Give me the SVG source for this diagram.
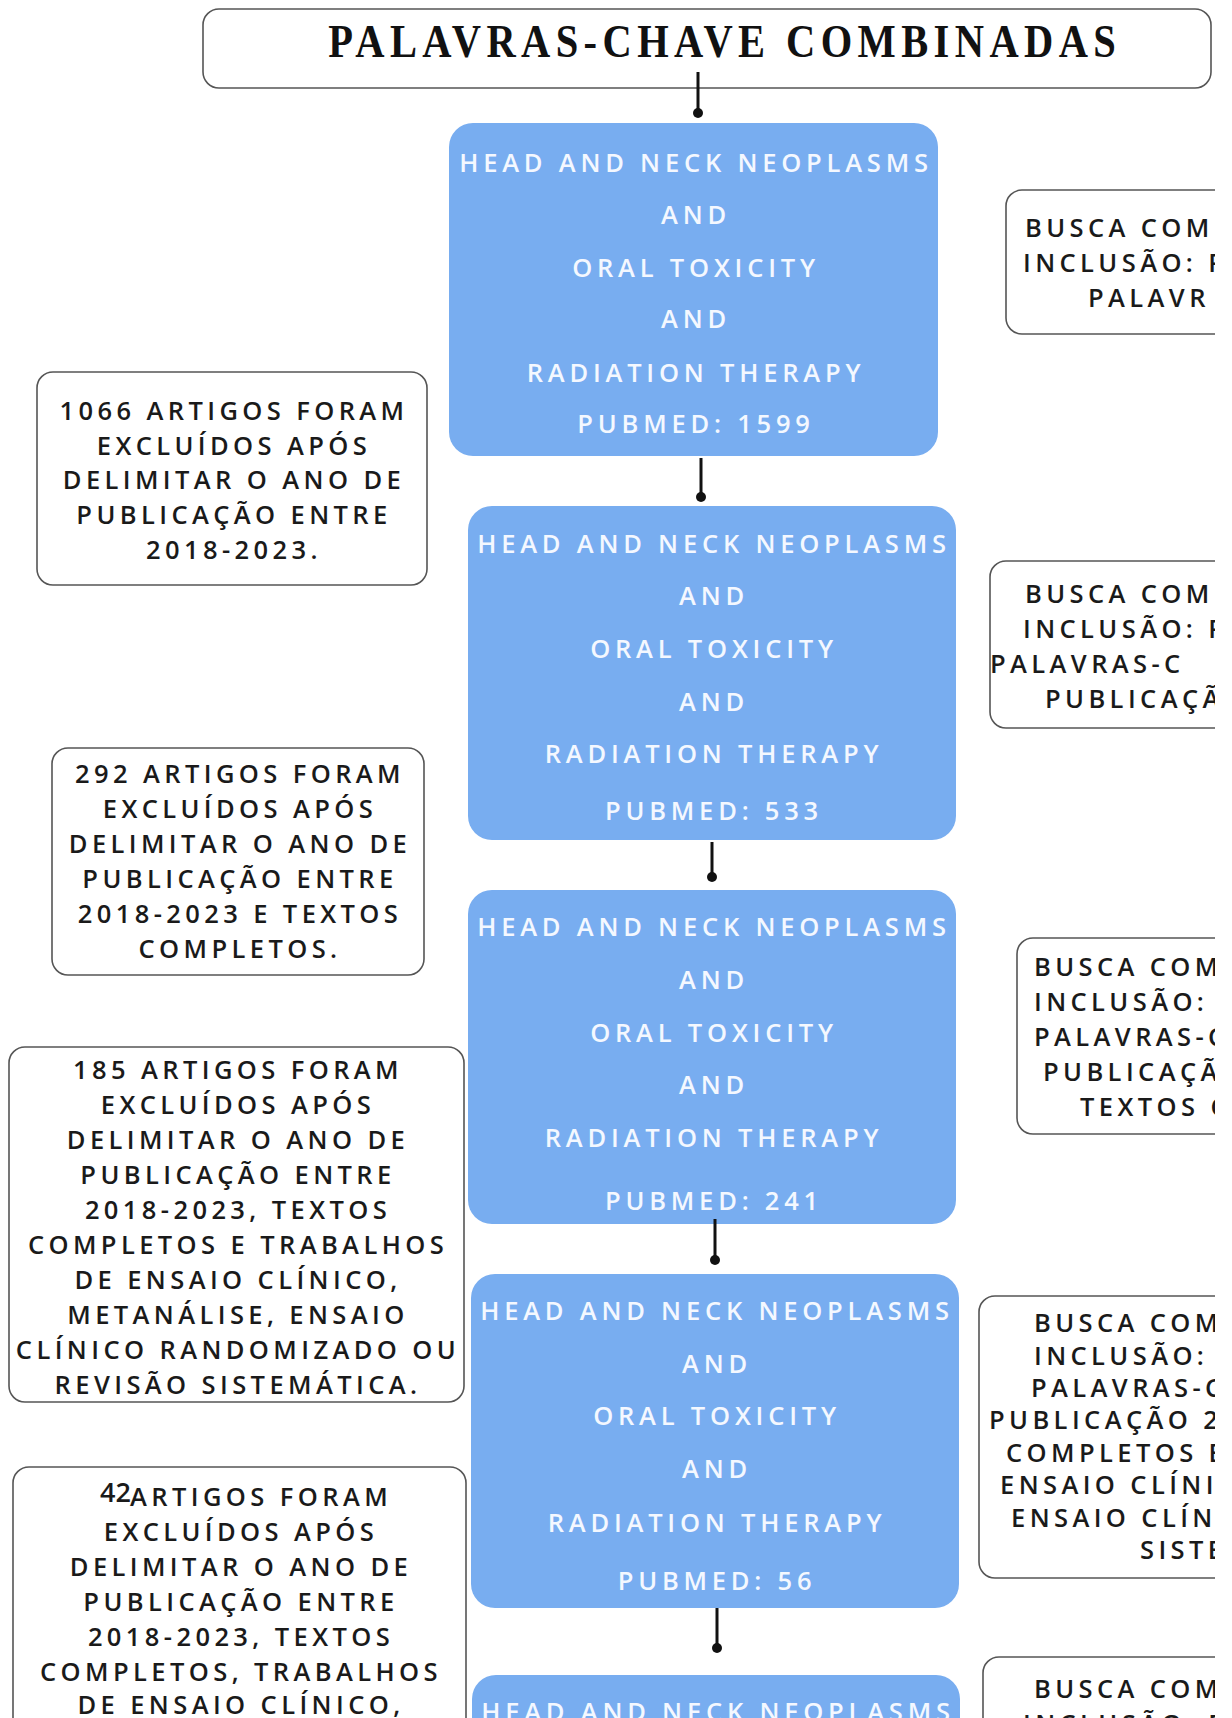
<svg xmlns="http://www.w3.org/2000/svg" width="1232" height="1718" viewBox="0 0 1232 1718">
<style>
.title{font-family:"Liberation Serif","Times New Roman",serif;font-weight:bold;font-size:45px;letter-spacing:6px;fill:#111;text-anchor:middle}
.frame{fill:#fff;stroke:#555;stroke-width:1.6}
.blue{fill:#78adf0}
.bt{font-family:"Open Sans","Liberation Sans",sans-serif;font-weight:600;font-size:25.5px;letter-spacing:4.8px;fill:#f4f8ff;text-anchor:middle}
.lt{font-family:"Open Sans","Liberation Sans",sans-serif;font-weight:600;font-size:25.5px;letter-spacing:4.4px;fill:#1a1a1a;text-anchor:middle}
.rt{font-family:"Open Sans","Liberation Sans",sans-serif;font-weight:600;font-size:25.5px;letter-spacing:4.4px;fill:#1a1a1a}
.ln{stroke:#111;stroke-width:3;fill:none}
.dot{fill:#111}
</style>
<defs>
<clipPath id="cut"><rect x="0" y="0" width="1215" height="1718"/></clipPath>
</defs>
<rect width="1232" height="1718" fill="#fff"/>

<g id="title">
<rect class="frame" x="203" y="9" width="1008" height="79" rx="16"/>
<text class="title" transform="translate(722 57) scale(0.9 1.05)" x="3" y="0">PALAVRAS-CHAVE COMBINADAS</text>
</g>

<g id="search1">
<rect class="blue" x="449" y="123" width="489" height="333" rx="24"/>
<text class="bt" x="696" y="172">HEAD AND NECK NEOPLASMS</text>
<text class="bt" x="696" y="224">AND</text>
<text class="bt" x="696" y="277">ORAL TOXICITY</text>
<text class="bt" x="696" y="328">AND</text>
<text class="bt" x="696" y="382">RADIATION THERAPY</text>
<text class="bt" x="696" y="433">PUBMED: 1599</text>
</g>

<g id="search2">
<rect class="blue" x="468" y="506" width="488" height="334" rx="24"/>
<text class="bt" x="714" y="553">HEAD AND NECK NEOPLASMS</text>
<text class="bt" x="714" y="605">AND</text>
<text class="bt" x="714" y="658">ORAL TOXICITY</text>
<text class="bt" x="714" y="711">AND</text>
<text class="bt" x="714" y="763">RADIATION THERAPY</text>
<text class="bt" x="714" y="820">PUBMED: 533</text>
</g>

<g id="search3">
<rect class="blue" x="468" y="890" width="488" height="334" rx="24"/>
<text class="bt" x="714" y="936">HEAD AND NECK NEOPLASMS</text>
<text class="bt" x="714" y="989">AND</text>
<text class="bt" x="714" y="1042">ORAL TOXICITY</text>
<text class="bt" x="714" y="1094">AND</text>
<text class="bt" x="714" y="1147">RADIATION THERAPY</text>
<text class="bt" x="714" y="1210">PUBMED: 241</text>
</g>

<g id="search4">
<rect class="blue" x="471" y="1274" width="488" height="334" rx="24"/>
<text class="bt" x="717" y="1320">HEAD AND NECK NEOPLASMS</text>
<text class="bt" x="717" y="1373">AND</text>
<text class="bt" x="717" y="1425">ORAL TOXICITY</text>
<text class="bt" x="717" y="1478">AND</text>
<text class="bt" x="717" y="1532">RADIATION THERAPY</text>
<text class="bt" x="717" y="1590">PUBMED: 56</text>
</g>

<g id="search5">
<rect class="blue" x="472" y="1675" width="488" height="120" rx="24"/>
<text class="bt" x="718" y="1721">HEAD AND NECK NEOPLASMS</text>
</g>

<g id="excl1">
<rect class="frame" x="37" y="372" width="390" height="213" rx="16"/>
<text class="lt" x="234" y="420">1066 ARTIGOS FORAM</text>
<text class="lt" x="234" y="455">EXCLUÍDOS APÓS</text>
<text class="lt" x="234" y="489">DELIMITAR O ANO DE</text>
<text class="lt" x="234" y="524">PUBLICAÇÃO ENTRE</text>
<text class="lt" x="234" y="559">2018-2023.</text>
</g>

<g id="excl2">
<rect class="frame" x="52" y="748" width="372" height="227" rx="16"/>
<text class="lt" x="240" y="783">292 ARTIGOS FORAM</text>
<text class="lt" x="240" y="818">EXCLUÍDOS APÓS</text>
<text class="lt" x="240" y="853">DELIMITAR O ANO DE</text>
<text class="lt" x="240" y="888">PUBLICAÇÃO ENTRE</text>
<text class="lt" x="240" y="923">2018-2023 E TEXTOS</text>
<text class="lt" x="240" y="958">COMPLETOS.</text>
</g>

<g id="excl3">
<rect class="frame" x="9" y="1047" width="455" height="355" rx="16"/>
<text class="lt" x="238" y="1079">185 ARTIGOS FORAM</text>
<text class="lt" x="238" y="1114">EXCLUÍDOS APÓS</text>
<text class="lt" x="238" y="1149">DELIMITAR O ANO DE</text>
<text class="lt" x="238" y="1184">PUBLICAÇÃO ENTRE</text>
<text class="lt" x="238" y="1219">2018-2023, TEXTOS</text>
<text class="lt" x="238" y="1254">COMPLETOS E TRABALHOS</text>
<text class="lt" x="238" y="1289">DE ENSAIO CLÍNICO,</text>
<text class="lt" x="238" y="1324">METANÁLISE, ENSAIO</text>
<text class="lt" x="238" y="1359">CLÍNICO RANDOMIZADO OU</text>
<text class="lt" x="238" y="1394">REVISÃO SISTEMÁTICA.</text>
</g>

<g id="excl4">
<rect class="frame" x="13" y="1467" width="453" height="320" rx="16"/>
<text class="rt" x="100" y="1502" style="font-size:27px;letter-spacing:0">42</text>
<text class="rt" x="130" y="1506">ARTIGOS FORAM</text>
<text class="lt" x="241" y="1541">EXCLUÍDOS APÓS</text>
<text class="lt" x="241" y="1576">DELIMITAR O ANO DE</text>
<text class="lt" x="241" y="1611">PUBLICAÇÃO ENTRE</text>
<text class="lt" x="241" y="1646">2018-2023, TEXTOS</text>
<text class="lt" x="241" y="1681">COMPLETOS, TRABALHOS</text>
<text class="lt" x="241" y="1714">DE ENSAIO CLÍNICO,</text>
</g>

<g clip-path="url(#cut)">
<g id="crit1">
<rect class="frame" x="1006" y="190" width="300" height="144" rx="16"/>
<text class="rt" x="1025" y="237">BUSCA COM</text>
<text class="rt" x="1023" y="272">INCLUSÃO: P</text>
<text class="rt" x="1088" y="307">PALAVR</text>
</g>
<g id="crit2">
<rect class="frame" x="990" y="561" width="300" height="167" rx="16"/>
<text class="rt" x="1025" y="603">BUSCA COM</text>
<text class="rt" x="1023" y="638">INCLUSÃO: P</text>
<text class="rt" x="990" y="673">PALAVRAS-C</text>
<text class="rt" x="1045" y="708">PUBLICAÇÃ</text>
</g>
<g id="crit3">
<rect class="frame" x="1017" y="938" width="300" height="196" rx="16"/>
<text class="rt" x="1034" y="976">BUSCA COM</text>
<text class="rt" x="1034" y="1011">INCLUSÃO: P</text>
<text class="rt" x="1034" y="1046">PALAVRAS-C</text>
<text class="rt" x="1043" y="1081">PUBLICAÇÃ</text>
<text class="rt" x="1080" y="1116">TEXTOS C</text>
</g>
<g id="crit4">
<rect class="frame" x="979" y="1296" width="300" height="282" rx="16"/>
<text class="rt" x="1034" y="1332">BUSCA COM</text>
<text class="rt" x="1034" y="1365">INCLUSÃO: P</text>
<text class="rt" x="1031" y="1397">PALAVRAS-C</text>
<text class="rt" x="989" y="1429">PUBLICAÇÃO 2</text>
<text class="rt" x="1006" y="1462">COMPLETOS E</text>
<text class="rt" x="1000" y="1494">ENSAIO CLÍNI</text>
<text class="rt" x="1011" y="1527">ENSAIO CLÍN</text>
<text class="rt" x="1140" y="1559">SISTE</text>
</g>
<g id="crit5">
<rect class="frame" x="983" y="1657" width="300" height="120" rx="16"/>
<text class="rt" x="1034" y="1698">BUSCA COM</text>
<text class="rt" x="1023" y="1733">INCLUSÃO: P</text>
</g>
</g>

<g id="connectors">
<line class="ln" x1="698" y1="72" x2="698" y2="113"/><circle class="dot" cx="698" cy="113" r="5"/>
<line class="ln" x1="701" y1="458" x2="701" y2="497"/><circle class="dot" cx="701" cy="497" r="5"/>
<line class="ln" x1="712" y1="842" x2="712" y2="877"/><circle class="dot" cx="712" cy="877" r="5"/>
<line class="ln" x1="715" y1="1219" x2="715" y2="1260"/><circle class="dot" cx="715" cy="1260" r="5"/>
<line class="ln" x1="717" y1="1608" x2="717" y2="1648"/><circle class="dot" cx="717" cy="1648" r="5"/>
</g>
</svg>
